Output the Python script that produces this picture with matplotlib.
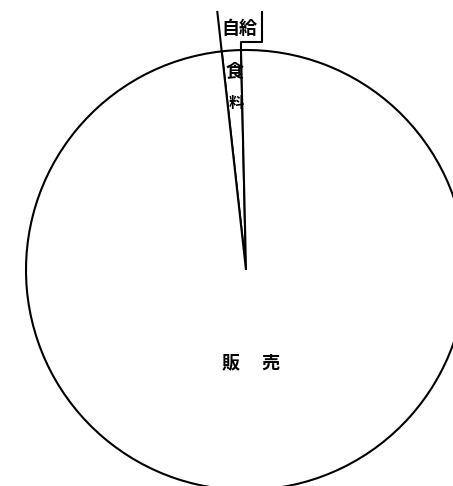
import matplotlib.pyplot as plt
import numpy as np

plt.rcParams['font.family'] = ['Noto Sans CJK JP', 'DejaVu Sans']

# share of the pie (percent)
labels = ["自給食料", "販売"]
shares = [1.4, 98.6]
start_deg = 91.3  # right edge of the small slice, just left of 12 o'clock

W, H = 453, 486
fig = plt.figure(figsize=(W / 100, H / 100), dpi=100)
ax = fig.add_axes([0, 0, 1, 1])

cx, cy, r = 246, H - 270, 220
wedges, _ = ax.pie(
    shares,
    center=(cx, cy),
    radius=r,
    startangle=start_deg,
    counterclock=True,
    colors=["white", "white"],
    wedgeprops=dict(edgecolor="black", linewidth=1.5),
)
ax.set_xlim(0, W)
ax.set_ylim(0, H)
ax.set_aspect("equal")
ax.axis("off")

# leader lines for the small slice label
left_deg = start_deg + shares[0] * 3.6
t = np.radians(left_deg)
y_top = H - 12
k = (y_top - cy) / np.sin(t)
ax.plot([cx + r * np.cos(t), cx + k * np.cos(t)], [cy + r * np.sin(t), y_top],
        color="black", lw=1.5)
t2 = np.radians(start_deg)
x_edge = cx + r * np.cos(t2)
ax.plot([x_edge, x_edge, 262, 262],
        [cy + r * np.sin(t2), H - 42, H - 42, H - 12],
        color="black", lw=1.5)

font = dict(ha="center", va="center", fontsize=13, fontweight="bold")
ax.text(239, H - 28, "自給", **font)
ax.text(235, H - 71, "食", **font)
ax.text(236, H - 103, "料", **{**font, "fontsize": 11})
ax.text(251, H - 363, "販\u3000 売", **font)

fig.savefig("out.png", dpi=100, facecolor="white")
